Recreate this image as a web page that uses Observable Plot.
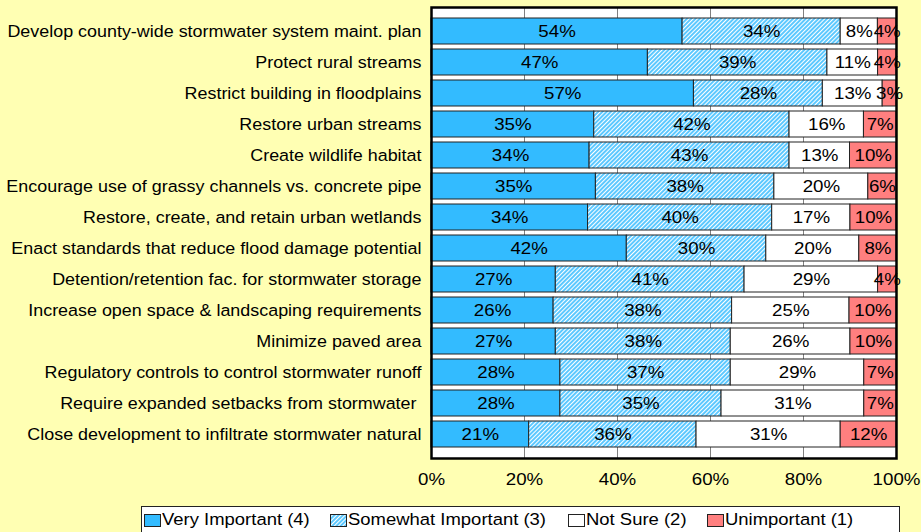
<!DOCTYPE html>
<html>
<head>
<meta charset="utf-8">
<script src="https://cdn.jsdelivr.net/npm/d3@7"></script>
<script src="https://cdn.jsdelivr.net/npm/@observablehq/plot@0.6"></script>
<style>
  html, body { margin: 0; padding: 0; background: #ffffb3; }
  body { position: relative; width: 921px; height: 532px; overflow: hidden; font-family: "Liberation Sans", Arial, sans-serif; }
  #chart svg { display: block; }
  #chart text { white-space: pre; }
  .legend {
    position: absolute; top: 506px; left: 141px; width: 759px; height: 28px;
    box-sizing: border-box; border: 1px solid #222; background: #fff;
    font-size: 16.8px; color: #000; white-space: nowrap;
  }
  .legend .item { position: absolute; top: 0; height: 26px; display: flex; align-items: center; gap: 1px; }
  .legend svg { display: block; }
  .legend span { display: inline-block; transform: scaleX(1.1); transform-origin: left center; }
</style>
</head>
<body>
<div id="chart"></div>
<script>
const categories = [
  "Develop county-wide stormwater system maint. plan",
  "Protect rural streams",
  "Restrict building in floodplains",
  "Restore urban streams",
  "Create wildlife habitat",
  "Encourage use of grassy channels vs. concrete pipe",
  "Restore, create, and retain urban wetlands",
  "Enact standards that reduce flood damage potential",
  "Detention/retention fac. for stormwater storage",
  "Increase open space & landscaping requirements",
  "Minimize paved area",
  "Regulatory controls to control stormwater runoff",
  "Require expanded setbacks from stormwater ",
  "Close development to infiltrate stormwater natural"
];
const series = ["Very Important (4)", "Somewhat Important (3)", "Not Sure (2)", "Unimportant (1)"];
const veryImportant     = [54, 47, 57, 35, 34, 35, 34, 42, 27, 26, 27, 28, 28, 21];
const somewhatImportant = [34, 39, 28, 42, 43, 38, 40, 30, 41, 38, 38, 37, 35, 36];
const notSure           = [8, 11, 13, 16, 13, 20, 17, 20, 29, 25, 26, 29, 31, 31];
const unimportant       = [4, 4, 3, 7, 10, 6, 10, 8, 4, 10, 10, 7, 7, 12];
const seriesColors = ["#33bbff", "url(#hatch)", "#ffffff", "#ff7f7f"];
const xTicks = [0, 20, 40, 60, 80, 100];
const legendItemLeft = [2, 188, 426, 565];

const seriesValues = [veryImportant, somewhatImportant, notSure, unimportant];
const data = categories.flatMap((c, i) =>
  series.map((s, j) => ({category: c, series: s, value: seriesValues[j][i]}))
);

const chart = Plot.plot({
  width: 921,
  height: 500,
  marginLeft: 431,
  marginRight: 25,
  marginTop: 7,
  marginBottom: 42,
  style: {background: "transparent", fontFamily: "'Liberation Sans', Arial, sans-serif", color: "#000"},
  x: {domain: [0, 1]},
  y: {domain: categories, padding: 0.15},
  color: {domain: series, range: seriesColors},
  marks: [
    Plot.frame({fill: "#fff", stroke: null}),
    Plot.gridX(xTicks.map(d => d / 100), {stroke: "#808080", strokeOpacity: 1}),
    Plot.barX(data, Plot.stackX({
      x: "value", y: "category", fill: "series", offset: "normalize", order: series,
      stroke: "#222", strokeWidth: 1
    })),
    Plot.text(data, Plot.stackX({
      x: "value", y: "category", z: "series", offset: "normalize", order: series,
      text: d => d.value + "%", fontSize: 17, fill: "#000"
    })),
    Plot.frame({stroke: "#000", strokeWidth: 2.5}),
    Plot.axisX(xTicks.map(d => d / 100), {
      tickSize: 0, tickPadding: 14, fontSize: 17, label: null,
      tickFormat: d => Math.round(d * 100) + "%"
    }),
    Plot.axisY({tickSize: 0, tickPadding: 10, fontSize: 16.3, label: null})
  ]
});

// hatch pattern definition
const svgSel = d3.select(chart);
const defs = svgSel.insert("defs", ":first-child");
const pat = defs.append("pattern")
  .attr("id", "hatch")
  .attr("patternUnits", "userSpaceOnUse")
  .attr("width", 3).attr("height", 3)
  .attr("patternTransform", "rotate(45)");
pat.append("rect").attr("width", 3).attr("height", 3).attr("fill", "#fff");
pat.append("line").attr("x1", 1).attr("y1", 0).attr("x2", 1).attr("y2", 3)
  .attr("stroke", "#33bbff").attr("stroke-width", 1.6);

document.getElementById("chart").appendChild(chart);

// slight horizontal stretch of all text, as in the reference
chart.querySelectorAll("text").forEach(t => {
  const w = t.getComputedTextLength();
  if (w > 0) {
    t.setAttribute("textLength", w * 1.1);
    t.setAttribute("lengthAdjust", "spacingAndGlyphs");
  }
});

// legend
const legend = d3.select("body").append("div").attr("class", "legend");
series.forEach((s, i) => {
  const item = legend.append("div").attr("class", "item").style("left", legendItemLeft[i] + "px");
  const sw = item.append("svg").attr("width", 17).attr("height", 13);
  sw.append("rect").attr("x", 0.5).attr("y", 0.5).attr("width", 16).attr("height", 12)
    .attr("fill", seriesColors[i]).attr("stroke", "#222").attr("stroke-width", 1);
  item.append("span").text(s);
});
</script>
</body>
</html>
